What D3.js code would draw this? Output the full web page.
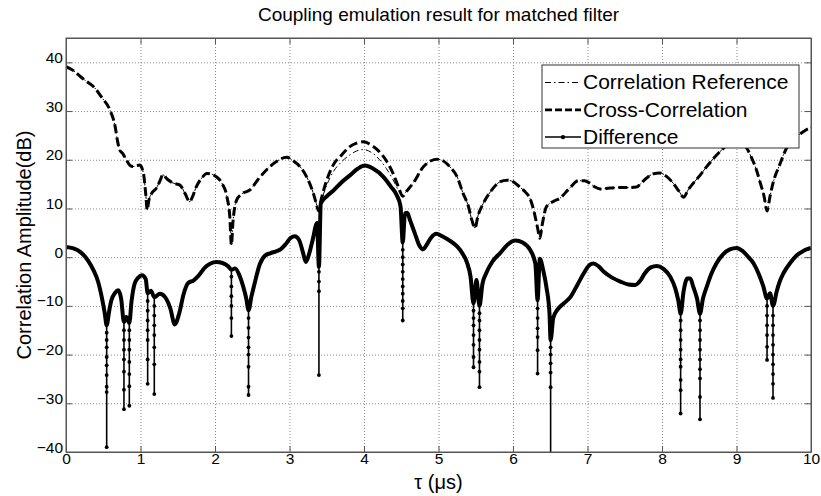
<!DOCTYPE html>
<html>
<head>
<meta charset="utf-8">
<script src="https://cdn.jsdelivr.net/npm/d3@7"></script>
<style>
  body { margin: 0; background: #fff; }
  svg { display: block; font-family: "Liberation Sans", Arial, sans-serif; }
</style>
</head>
<body>
<svg id="chart" width="821" height="496"></svg>
<script>
// values
const xTicks = [0, 1, 2, 3, 4, 5, 6, 7, 8, 9, 10]
const yTicks = [-40, -30, -20, -10, 0, 10, 20, 30, 40]

const crossTau = [0, 0.1, 0.2, 0.3, 0.37, 0.48, 0.59, 0.66, 0.69, 0.72, 0.76, 0.81, 0.86, 0.9, 0.95, 0.99, 1.04, 1.07, 1.09, 1.11, 1.15, 1.21, 1.26, 1.3, 1.36, 1.44, 1.53, 1.6, 1.66, 1.7, 1.75, 1.82, 1.89, 1.96, 2.02, 2.1, 2.16, 2.2, 2.22, 2.24, 2.29, 2.36, 2.47, 2.58, 2.69, 2.82, 2.96, 3.05, 3.14, 3.23, 3.32, 3.36, 3.39, 3.42, 3.5, 3.59, 3.7, 3.81, 3.9, 3.99, 4.1, 4.21, 4.3, 4.39, 4.46, 4.52, 4.57, 4.66, 4.8, 4.9, 4.98, 5.06, 5.15, 5.25, 5.33, 5.4, 5.45, 5.49, 5.53, 5.6, 5.7, 5.83, 5.92, 6.0, 6.09, 6.17, 6.23, 6.28, 6.33, 6.36, 6.39, 6.45, 6.55, 6.63, 6.75, 6.88, 6.96, 7.03, 7.1, 7.17, 7.3, 7.44, 7.55, 7.66, 7.72, 7.79, 7.88, 7.97, 8.06, 8.15, 8.23, 8.29, 8.35, 8.42, 8.51, 8.6, 8.7, 8.8, 8.9, 9.0, 9.08, 9.14, 9.2, 9.27, 9.32, 9.37, 9.41, 9.45, 9.49, 9.58, 9.67, 9.78, 9.9, 10]
const crossDb = [39.1, 38.3, 37.0, 35.8, 35.0, 32.8, 30.2, 26.8, 24.0, 22.0, 21.3, 20.0, 18.8, 18.6, 18.8, 18.9, 17.2, 13.0, 9.7, 11.5, 13.1, 14.1, 15.6, 16.9, 16.0, 15.2, 14.8, 13.0, 11.4, 12.5, 14.5, 16.2, 17.2, 17.0, 16.5, 15.0, 12.4, 8.0, 2.5, 7.0, 11.7, 13.0, 13.8, 16.0, 17.9, 19.6, 20.5, 19.8, 18.6, 16.5, 13.1, 11.0, 9.5, 11.5, 15.8, 19.0, 21.0, 22.7, 23.4, 23.7, 23.0, 21.6, 19.8, 17.2, 14.5, 12.5, 13.5, 15.2, 18.6, 19.8, 20.1, 19.8, 18.6, 16.5, 13.1, 10.5, 7.5, 6.0, 8.5, 11.0, 13.5, 15.5, 15.8, 15.5, 14.4, 13.3, 12.0, 9.5, 6.0, 3.9, 6.5, 10.4, 11.5, 12.1, 14.0, 15.7, 15.7, 15.2, 14.4, 14.0, 14.2, 14.3, 14.3, 14.4, 15.2, 16.2, 17.1, 17.3, 16.6, 15.2, 13.5, 12.3, 13.8, 15.2, 16.8, 18.6, 20.4, 22.0, 23.3, 23.8, 23.5, 22.3, 20.5, 17.8, 15.2, 12.5, 9.5, 12.5, 15.2, 19.0, 22.3, 24.3, 25.8, 26.7]

const refTau = crossTau
const refDb = [39.1, 38.3, 37.0, 35.8, 35.0, 32.8, 30.2, 26.8, 24.0, 22.0, 21.3, 20.0, 18.8, 18.6, 18.8, 18.9, 17.2, 13.0, 9.7, 11.5, 13.1, 14.1, 15.6, 16.9, 16.0, 15.2, 14.8, 13.0, 11.4, 12.5, 14.5, 16.2, 17.2, 17.0, 16.5, 15.0, 12.4, 8.0, 2.5, 7.0, 11.7, 13.0, 13.8, 16.0, 17.9, 19.6, 20.5, 19.8, 18.6, 16.5, 13.1, 11.0, 9.5, 11.2, 14.8, 17.6, 19.6, 21.0, 21.8, 22.1, 21.5, 20.0, 18.2, 15.9, 13.8, 12.8, 13.5, 15.2, 18.6, 19.8, 20.1, 19.8, 18.6, 16.5, 13.1, 10.5, 7.5, 6.0, 8.5, 11.0, 13.5, 15.5, 15.8, 15.5, 14.4, 13.3, 12.0, 9.5, 6.0, 3.9, 6.5, 10.4, 11.5, 12.1, 14.0, 15.7, 15.7, 15.2, 14.4, 14.0, 14.2, 14.3, 14.3, 14.4, 15.2, 16.2, 17.1, 17.3, 16.6, 15.2, 13.5, 12.3, 13.8, 15.2, 16.8, 18.6, 20.4, 22.0, 23.3, 23.8, 23.5, 22.3, 20.5, 17.8, 15.2, 12.5, 9.5, 12.5, 15.2, 19.0, 22.3, 24.3, 25.8, 26.7]

const diffTau = [0, 0.1, 0.19, 0.3, 0.37, 0.43, 0.48, 0.52, 0.546, 0.58, 0.61, 0.66, 0.7, 0.74, 0.778, 0.81, 0.85, 0.88, 0.92, 0.97, 1.02, 1.07, 1.096, 1.14, 1.185, 1.26, 1.33, 1.4, 1.46, 1.52, 1.58, 1.64, 1.71, 1.78, 1.86, 1.94, 2.02, 2.1, 2.18, 2.22, 2.27, 2.33, 2.38, 2.42, 2.45, 2.49, 2.53, 2.6, 2.67, 2.74, 2.82, 2.88, 2.95, 3.02, 3.07, 3.13, 3.18, 3.22, 3.26, 3.31, 3.37, 3.395, 3.42, 3.5, 3.59, 3.7, 3.81, 3.92, 4.01, 4.12, 4.26, 4.36, 4.44, 4.49, 4.52, 4.55, 4.58, 4.62, 4.68, 4.74, 4.79, 4.84, 4.9, 4.97, 5.05, 5.15, 5.25, 5.32, 5.38, 5.43, 5.47, 5.51, 5.55, 5.59, 5.64, 5.72, 5.83, 5.93, 6.03, 6.13, 6.23, 6.3, 6.33, 6.36, 6.41, 6.45, 6.49, 6.505, 6.54, 6.6, 6.68, 6.77, 6.86, 6.95, 7.02, 7.08, 7.15, 7.22, 7.33, 7.44, 7.55, 7.64, 7.71, 7.77, 7.85, 7.93, 8.02, 8.11, 8.18, 8.22, 8.25, 8.29, 8.34, 8.38, 8.42, 8.47, 8.51, 8.55, 8.6, 8.66, 8.73, 8.82, 8.91, 9.0, 9.08, 9.16, 9.23, 9.3, 9.36, 9.41, 9.45, 9.49, 9.54, 9.58, 9.63, 9.72, 9.81, 9.9, 10]
const diffDb = [2.1, 1.8, 1.1, -0.8, -2.7, -5.0, -8.2, -11.5, -14.0, -11.0, -8.8, -7.3, -6.8, -8.5, -13.3, -12.3, -13.5, -9.0, -5.5, -4.2, -3.7, -4.5, -7.4, -6.9, -8.2, -7.5, -8.2, -10.5, -13.8, -11.5, -7.5, -5.3, -4.8, -3.8, -2.2, -1.3, -1.0, -1.2, -1.9, -2.6, -2.3, -3.8, -6.1, -8.5, -10.9, -8.0, -5.5, -1.5, 0.3, 0.8, 1.2, 1.6, 2.7, 4.0, 4.3, 3.5, 1.0, -1.0, 0.5, 3.5, 7.0, -2.0, 11.0, 12.5, 13.7, 15.4, 16.8, 18.2, 18.8, 18.2, 16.5, 14.5, 12.7, 10.5, 3.0, 9.0, 9.1, 7.5, 5.0, 2.5, 1.6, 2.5, 4.0, 4.8, 4.3, 3.4, 2.2, 0.8, -1.0, -4.0, -9.5, -4.7, -10.0, -5.5, -3.3, -1.0, 0.9, 2.6, 3.4, 3.0, 1.5, -1.3, -8.8, -0.3, -3.0, -6.3, -11.6, -17.0, -12.5, -10.7, -9.5, -8.2, -5.8, -3.3, -1.7, -1.3, -1.9, -3.0, -4.2, -5.0, -5.6, -5.7, -4.8, -3.3, -2.1, -1.8, -2.4, -4.0, -6.5, -9.0, -11.6, -7.0, -4.4, -4.4, -6.1, -8.5, -11.6, -8.5, -6.1, -3.5, -1.3, 0.6, 1.6, 1.9, 1.3, 0.0, -1.3, -3.5, -6.0, -8.5, -7.4, -10.0, -7.0, -5.0, -3.3, -1.2, 0.4, 1.3, 1.9]

// narrow nulls of the difference curve: sample points seen below the thick part
const spikeTau = [0.546, 0.778, 0.85, 1.096, 1.185, 2.22, 2.45, 3.395, 4.52, 5.47, 5.55, 6.33, 6.505, 8.25, 8.51, 9.41, 9.49]
const spikeDots = [
  [-15.5, -17, -18.5, -20.5, -22.2, -24.2, -26.6, -27.7, -39],
  [-15, -17, -19, -21, -23.5, -27.2, -31.2],
  [-15, -17, -19, -21.5, -24, -26.5, -30.5],
  [-9, -11, -13, -15, -17, -21, -26],
  [-10, -12, -14, -16, -18.5, -22, -28.1],
  [-4, -6, -8, -10, -12.5, -16.2],
  [-12.5, -14.5, -16.5, -18.5, -20, -22.5, -26.6, -28.3],
  [-3, -5, -7, -24.2],
  [1.5, 0, -1.5, -3, -4.5, -6, -7.5, -9, -10.5, -13],
  [-11, -12.5, -14, -16, -18, -20.5, -22.6],
  [-11.5, -13, -15, -17, -19, -21.5, -23.5, -26.7],
  [-10.5, -12.5, -14.6, -16.4, -19.1, -23.9],
  [-18.5, -20, -21.8, -23.7, -26.7, -45],
  [-13, -15, -17, -19, -21, -22.5, -25.2, -27.3, -32.1],
  [-13, -15, -17, -19, -21, -23, -24.9, -28.7, -33.3],
  [-10, -12, -14, -16, -18.4, -21.1],
  [-12, -14, -16, -18, -20, -22, -24, -26, -28.9]
]

const seriesNames = ['Correlation Reference', 'Cross-Correlation', 'Difference']

const margin = { left: 66, right: 10, top: 38, bottom: 44 }
const W = 821, H = 496
const iw = W - margin.left - margin.right
const ih = H - margin.top - margin.bottom

let svg = d3.select('#chart')

let xscale = d3.scaleLinear().domain([0, 10]).range([0, iw])
let yscale = d3.scaleLinear().domain([-40, 45]).range([ih, 0])

let g = svg.append('g').attr('transform', `translate(${margin.left},${margin.top})`)

svg.append('defs').append('clipPath').attr('id', 'plotclip')
    .append('rect').attr('width', iw).attr('height', ih)

// dotted grid
g.append('g').attr('class', 'grid')
    .call(d3.axisBottom(xscale).tickValues(xTicks.slice(1, -1)).tickSize(ih).tickFormat(''))
    .call(s => s.select('.domain').remove())
g.append('g').attr('class', 'grid')
    .call(d3.axisLeft(yscale).tickValues(yTicks.slice(1)).tickSize(-iw).tickFormat(''))
    .call(s => s.select('.domain').remove())
g.selectAll('.grid line')
    .style('stroke', '#8a8a8a')
    .style('stroke-width', 1)
    .style('stroke-dasharray', '1,2')

let plot = g.append('g').attr('clip-path', 'url(#plotclip)')

let line = d3.line()
    .x(d => xscale(d[0]))
    .y(d => yscale(d[1]))
    .curve(d3.curveMonotoneX)

let refData = refTau.map((t, i) => [t, refDb[i]])
let crossData = crossTau.map((t, i) => [t, crossDb[i]])
let diffData = diffTau.map((t, i) => [t, diffDb[i]])

plot.append('path')
    .attr('d', line(refData))
    .style('fill', 'none')
    .style('stroke', '#000')
    .style('stroke-width', 1)
    .style('stroke-dasharray', '6,3,1.5,3')

plot.append('path')
    .attr('d', line(crossData))
    .style('fill', 'none')
    .style('stroke', '#000')
    .style('stroke-width', 3)
    .style('stroke-dasharray', '9,4')

// spikes first, thick body on top
spikeTau.forEach((t, i) => {
    let top = diffDb[diffTau.indexOf(t)]
    let dots = spikeDots[i]
    plot.append('line')
        .attr('x1', xscale(t)).attr('x2', xscale(t))
        .attr('y1', yscale(top)).attr('y2', yscale(dots[dots.length - 1]))
        .style('stroke', '#000')
        .style('stroke-width', 1.6)
    plot.selectAll(null)
        .data(dots)
        .enter().append('circle')
        .attr('cx', xscale(t))
        .attr('cy', d => yscale(d))
        .attr('r', 1.9)
        .style('fill', '#000')
})

plot.append('path')
    .attr('d', line(diffData))
    .style('fill', 'none')
    .style('stroke', '#000')
    .style('stroke-width', 4)
    .style('stroke-linejoin', 'round')

// axes box with inward ticks on all sides
let axisColor = '#555'
let xb = g.append('g').attr('transform', `translate(0,${ih})`)
    .call(d3.axisBottom(xscale).tickValues(xTicks).tickSizeInner(-6).tickSizeOuter(0).tickFormat(d3.format('d')))
xb.selectAll('text').attr('y', 12).attr('dy', 0)
let yl = g.append('g')
    .call(d3.axisLeft(yscale).tickValues(yTicks).tickSizeInner(-6).tickSizeOuter(0))
yl.selectAll('text').attr('x', -3).attr('dy', 0).attr('y', 0)
g.append('g')
    .call(d3.axisTop(xscale).tickValues(xTicks).tickSizeInner(-6).tickSizeOuter(0).tickFormat(''))
g.append('g').attr('transform', `translate(${iw},0)`)
    .call(d3.axisRight(yscale).tickValues(yTicks).tickSizeInner(-6).tickSizeOuter(0).tickFormat(''))
g.selectAll('.domain, .tick line').filter(function() { return !this.closest('.grid') })
    .style('stroke', axisColor).style('stroke-width', 1)
g.selectAll('.tick text')
    .style('font-family', '"Liberation Sans", Arial, sans-serif')
    .style('font-size', '15.5px')
    .style('fill', '#000')
g.append('rect')
    .attr('width', iw).attr('height', ih)
    .style('fill', 'none').style('stroke', axisColor).style('stroke-width', 1)

// titles
svg.append('text')
    .attr('x', margin.left + iw / 2).attr('y', 21)
    .attr('text-anchor', 'middle')
    .style('font-size', '19px')
    .text('Coupling emulation result for matched filter')

svg.append('text')
    .attr('x', margin.left + iw / 2).attr('y', 489)
    .attr('text-anchor', 'middle')
    .style('font-size', '20px')
    .text('τ (μs)')

svg.append('text')
    .attr('transform', `translate(31,${margin.top + ih / 2}) rotate(-90)`)
    .attr('text-anchor', 'middle')
    .style('font-size', '20px')
    .text('Correlation Amplitude(dB)')

// legend
let lg = svg.append('g').attr('transform', 'translate(542,65)')
lg.append('rect')
    .attr('width', 257).attr('height', 83)
    .style('fill', '#fff').style('stroke', '#333').style('stroke-width', 1)

seriesNames.forEach((name, i) => {
    let yy = 17.5 + i * 27.3
    let row = lg.append('g')
    let sample = row.append('line')
        .attr('x1', 3).attr('x2', 39).attr('y1', yy).attr('y2', yy)
        .style('stroke', '#000')
    if (i == 0) sample.style('stroke-width', 1).style('stroke-dasharray', '6,3,1.5,3')
    if (i == 1) sample.style('stroke-width', 2.8).style('stroke-dasharray', '7,3')
    if (i == 2) {
        sample.style('stroke-width', 1.5)
        row.append('circle').attr('cx', 21).attr('cy', yy).attr('r', 2.2).style('fill', '#000')
    }
    row.append('text')
        .attr('x', 41).attr('y', yy + 6.8)
        .style('font-size', '21px')
        .text(name)
})
</script>
</body>
</html>
